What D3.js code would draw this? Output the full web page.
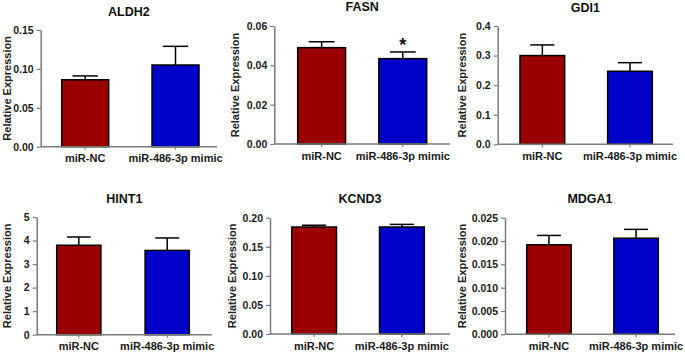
<!DOCTYPE html>
<html>
<head>
<meta charset="utf-8">
<script src="https://cdn.jsdelivr.net/npm/d3@7"></script>
<style>
  body { margin: 0; background: #fff; }
  text { font-family: "Liberation Sans", Arial, sans-serif; }
</style>
</head>
<body>
<div id="container"></div>
<script>
/* DATA */
const genes = ["ALDH2", "FASN", "GDI1", "HINT1", "KCND3", "MDGA1"];
const groups = ["miR-NC", "miR-486-3p mimic"];
const ncMean = [0.086, 0.049, 0.300, 3.80, 0.184, 0.0192];
const ncErr = [0.005, 0.003, 0.036, 0.35, 0.003, 0.002];
const mimicMean = [0.105, 0.0434, 0.247, 3.58, 0.184, 0.0206];
const mimicErr = [0.024, 0.0034, 0.029, 0.53, 0.0045, 0.0019];
const yMax = [0.15, 0.06, 0.4, 5, 0.20, 0.025];
const yStep = [0.05, 0.02, 0.1, 1, 0.05, 0.005];
const yDecimals = [2, 2, 1, 0, 2, 3];
const mimicMark = ["", "*", "", "", "", ""];

/* LAYOUT (per panel) */
const width = 685, height = 354;
const panels = [
  {axisX: 40.7, endX: 217, barL: 61.7, barR: 199, pad: 0.48, top: 30, bottom: 146.7, titleY: 12, labelX: 7},
  {axisX: 274.3, endX: 450, barL: 297.7, barR: 426.7, pad: 0.41, top: 26, bottom: 144, titleY: 7, labelX: 235},
  {axisX: 497.7, endX: 673, barL: 520, barR: 652.3, pad: 0.49, top: 26, bottom: 144.3, titleY: 7.5, labelX: 462},
  {axisX: 36.7, endX: 212, barL: 56.7, barR: 189.3, pad: 0.5, top: 217, bottom: 334.7, titleY: 199, labelX: 7.5},
  {axisX: 270, endX: 450, barL: 291.7, barR: 424.3, pad: 0.49, top: 217.7, bottom: 334, titleY: 199, labelX: 232},
  {axisX: 505, endX: 675, barL: 526.7, barR: 658.3, pad: 0.49, top: 217.7, bottom: 334.3, titleY: 199, labelX: 462}
];
const colors = ["#9b0000", "#0000c8"];
const axisColor = "#7a7a7a";

const svg = d3.select("#container")
  .append("svg")
  .attr("width", width)
  .attr("height", height);

genes.forEach((gene, i) => {
  const p = panels[i];
  const data = [
    {group: groups[0], mean: ncMean[i], err: ncErr[i], mark: ""},
    {group: groups[1], mean: mimicMean[i], err: mimicErr[i], mark: mimicMark[i]}
  ];

  const x = d3.scaleBand()
    .domain(groups)
    .range([p.barL, p.barR])
    .paddingInner(p.pad)
    .paddingOuter(0);

  const y = d3.scaleLinear()
    .domain([0, yMax[i]])
    .range([p.bottom, p.top]);

  const g = svg.append("g");

  // title
  g.append("text")
    .attr("x", (p.axisX + p.endX) / 2)
    .attr("y", p.titleY)
    .attr("dy", "0.35em")
    .attr("text-anchor", "middle")
    .style("font-size", "12.5px")
    .style("font-weight", "bold")
    .attr("fill", "#111")
    .text(gene);

  // y label
  g.append("text")
    .attr("transform", `translate(${p.labelX},${(p.top + p.bottom) / 2}) rotate(-90)`)
    .attr("dy", "0.35em")
    .attr("text-anchor", "middle")
    .style("font-size", "11px")
    .style("font-weight", "bold")
    .attr("fill", "#222")
    .text("Relative Expression");

  // bars
  g.selectAll("rect.bar")
    .data(data)
    .join("rect")
    .attr("class", "bar")
    .attr("x", d => x(d.group))
    .attr("width", x.bandwidth())
    .attr("y", d => y(d.mean))
    .attr("height", d => y(0) - y(d.mean))
    .attr("fill", (d, j) => colors[j])
    .attr("stroke", "#000")
    .attr("stroke-width", 1.5);

  // error bars (upper only)
  const cap = x.bandwidth() * 0.27;
  const eb = g.selectAll("g.err")
    .data(data)
    .join("g")
    .attr("class", "err")
    .attr("stroke", "#000")
    .attr("stroke-width", 1.5);
  eb.append("line")
    .attr("x1", d => x(d.group) + x.bandwidth() / 2)
    .attr("x2", d => x(d.group) + x.bandwidth() / 2)
    .attr("y1", d => y(d.mean))
    .attr("y2", d => y(d.mean + d.err));
  eb.append("line")
    .attr("x1", d => x(d.group) + x.bandwidth() / 2 - cap)
    .attr("x2", d => x(d.group) + x.bandwidth() / 2 + cap)
    .attr("y1", d => y(d.mean + d.err))
    .attr("y2", d => y(d.mean + d.err));

  // significance marks
  g.selectAll("text.mark")
    .data(data.filter(d => d.mark))
    .join("text")
    .attr("class", "mark")
    .attr("x", d => x(d.group) + x.bandwidth() / 2)
    .attr("y", d => y(d.mean + d.err) - 1)
    .attr("text-anchor", "middle")
    .style("font-size", "18px")
    .style("font-weight", "bold")
    .attr("fill", "#111")
    .text(d => d.mark);

  // y axis
  const ticks = d3.range(0, yMax[i] + yStep[i] / 2, yStep[i]);
  const yAxis = d3.axisLeft(y)
    .tickValues(ticks)
    .tickFormat(d3.format(`.${yDecimals[i]}f`))
    .tickSize(4)
    .tickSizeOuter(0)
    .tickPadding(3);
  const ya = g.append("g")
    .attr("transform", `translate(${p.axisX},0)`)
    .call(yAxis);
  ya.select(".domain").attr("stroke", axisColor).attr("stroke-width", 1.5);
  ya.selectAll(".tick line").attr("stroke", axisColor).attr("stroke-width", 1.2);
  ya.selectAll(".tick text")
    .style("font-size", "10.5px")
    .style("font-weight", "bold")
    .style("font-family", "'Liberation Sans', Arial, sans-serif")
    .attr("fill", "#1a1a1a");

  // x axis
  const xAxis = d3.axisBottom(x)
    .tickSize(3)
    .tickSizeOuter(0)
    .tickPadding(5);
  const xa = g.append("g")
    .attr("transform", `translate(0,${p.bottom})`)
    .call(xAxis);
  xa.select(".domain").remove();
  xa.append("line")
    .attr("x1", p.axisX)
    .attr("x2", p.endX)
    .attr("stroke", axisColor)
    .attr("stroke-width", 1.5);
  xa.selectAll(".tick line").attr("stroke", axisColor).attr("stroke-width", 1.2);
  xa.selectAll(".tick text")
    .style("font-size", "11px")
    .style("font-weight", "bold")
    .style("font-family", "'Liberation Sans', Arial, sans-serif")
    .attr("fill", "#1a1a1a");
});
</script>
</body>
</html>
